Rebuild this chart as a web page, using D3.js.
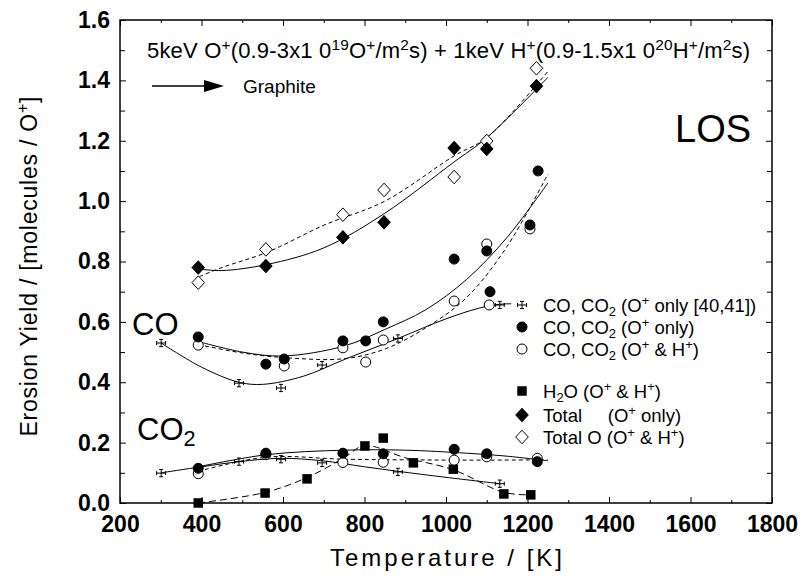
<!DOCTYPE html>
<html>
<head>
<meta charset="utf-8">
<script src="https://cdn.jsdelivr.net/npm/d3@7/dist/d3.min.js"></script>
<style>
  body { margin: 0; background: #fff; }
  text { font-family: "Liberation Sans", Arial, sans-serif; fill: #000; }
</style>
</head>
<body>
<div id="chart"></div>
<script>
// ---- data ----
const xTicks = [200, 400, 600, 800, 1000, 1200, 1400, 1600, 1800];
const xMinor = [300, 500, 700, 900, 1100, 1300, 1500, 1700];
const yTicks = [0, 0.2, 0.4, 0.6, 0.8, 1.0, 1.2, 1.4, 1.6];
const yMinor = [0.1, 0.3, 0.5, 0.7, 0.9, 1.1, 1.3, 1.5];

// CO, CO2 (O+ only [40,41]) - points with error bars
const refT = [301, 492, 595, 696, 882, 1132];
const refCO = [0.53, 0.397, 0.381, 0.457, 0.545, 0.656];
const refCO2 = [0.099, 0.137, 0.145, 0.133, 0.103, 0.064];
const refErrT = [11, 11, 11, 11, 11, 11];
const refErrY = [0.012, 0.012, 0.012, 0.012, 0.012, 0.012];

// CO (O+ only) filled circles
const coOT = [392, 558, 603, 747, 803, 846, 1020, 1100, 1108, 1206, 1226];
const coOY = [0.55, 0.46, 0.477, 0.537, 0.537, 0.60, 0.808, 0.835, 0.70, 0.921, 1.10];
// CO (O+ & H+) open circles
const coOHT = [392, 603, 747, 803, 846, 1020, 1100, 1106, 1206];
const coOHY = [0.523, 0.454, 0.514, 0.467, 0.54, 0.669, 0.858, 0.656, 0.908];

// CO2 (O+ only) filled / (O+ & H+) open
const co2T = [392, 558, 747, 846, 1020, 1100, 1224];
const co2OY = [0.115, 0.165, 0.165, 0.163, 0.178, 0.163, 0.137];
const co2OHY = [0.097, 0.16, 0.134, 0.135, 0.142, 0.153, 0.148];

// H2O (O+ & H+)
const h2oT = [392, 556, 659, 801, 846, 920, 1018, 1142, 1208];
const h2oY = [0.0, 0.033, 0.08, 0.189, 0.215, 0.133, 0.112, 0.03, 0.027];

// Total (O+ only) / Total O (O+ & H+)
const totT = [392, 558, 747, 848, 1020, 1100, 1222];
const totOY = [0.78, 0.785, 0.88, 0.93, 1.176, 1.173, 1.381];
const totOHY = [0.73, 0.84, 0.955, 1.037, 1.08, 1.199, 1.44];

// fitted curves as drawn in the figure
const fitTotOT = [395, 450, 560, 700, 850, 1020, 1100, 1250];
const fitTotOY = [0.775, 0.77, 0.79, 0.845, 0.96, 1.13, 1.21, 1.41];
const fitTotOHT = [395, 450, 560, 700, 850, 1020, 1100, 1250];
const fitTotOHY = [0.75, 0.78, 0.83, 0.92, 1.0, 1.15, 1.21, 1.43];

const fitCoOT = [392, 500, 600, 750, 850, 950, 1050, 1150, 1250];
const fitCoOY = [0.535, 0.50, 0.487, 0.52, 0.575, 0.64, 0.74, 0.88, 1.06];
const fitCoOHT = [392, 500, 620, 750, 850, 950, 1050, 1150, 1250];
const fitCoOHY = [0.525, 0.497, 0.48, 0.478, 0.51, 0.58, 0.68, 0.85, 1.09];
const fitRefCoT = [301, 400, 492, 550, 650, 750, 882, 1000, 1080, 1130, 1160];
const fitRefCoY = [0.53, 0.45, 0.40, 0.393, 0.42, 0.475, 0.545, 0.61, 0.645, 0.658, 0.66];

const fitCo2OT = [392, 560, 750, 900, 1050, 1150, 1250];
const fitCo2OY = [0.12, 0.16, 0.175, 0.175, 0.165, 0.155, 0.14];
const fitCo2OHT = [392, 560, 750, 900, 1050, 1250];
const fitCo2OHY = [0.105, 0.152, 0.145, 0.143, 0.142, 0.143];
const fitRefCo2T = [301, 400, 492, 595, 696, 800, 882, 1000, 1132];
const fitRefCo2Y = [0.10, 0.12, 0.137, 0.148, 0.14, 0.12, 0.105, 0.085, 0.064];
const fitH2oT = [392, 556, 660, 750, 800, 900, 1018, 1142, 1208];
const fitH2oY = [0.0, 0.035, 0.085, 0.15, 0.19, 0.15, 0.11, 0.035, 0.027];

const legendLabels = [
  [["CO, CO", ""], ["2", "sub"], [" (O", ""], ["+", "sup"], [" only [40,41])", ""]],
  [["CO, CO", ""], ["2", "sub"], [" (O", ""], ["+", "sup"], [" only)", ""]],
  [["CO, CO", ""], ["2", "sub"], [" (O", ""], ["+", "sup"], [" & H", ""], ["+", "sup"], [")", ""]],
  [["H", ""], ["2", "sub"], ["O (O", ""], ["+", "sup"], [" & H", ""], ["+", "sup"], [")", ""]],
  [["Total\u00a0\u00a0\u00a0\u00a0 (O", ""], ["+", "sup"], [" only)", ""]],
  [["Total O (O", ""], ["+", "sup"], [" & H", ""], ["+", "sup"], [")", ""]]
];
const legendMarks = ["err", "dot", "ring", "square", "diamond", "odiamond"];

// ---- chart ----
const width = 804, height = 576,
    margin = ({ top: 20, right: 32, bottom: 73, left: 120 });

let svg = d3.select("#chart")
    .append("svg")
    .attr("width", width)
    .attr("height", height);

let x = d3.scaleLinear()
    .domain([200, 1800])
    .range([margin.left, width - margin.right]);

let y = d3.scaleLinear()
    .domain([0, 1.6])
    .range([height - margin.bottom, margin.top]);

// axes on all four sides, ticks pointing inward
svg.append("g")
    .attr("transform", `translate(0,${y(0)})`)
    .call(d3.axisBottom(x).tickValues(xTicks).tickSizeInner(-6).tickSizeOuter(0).tickPadding(13).tickFormat(d3.format("d")))
    .call(g => g.append("g").call(d3.axisBottom(x).tickValues(xMinor).tickSizeInner(-3).tickSizeOuter(0).tickFormat("")));
svg.append("g")
    .attr("transform", `translate(0,${y(1.6)})`)
    .call(d3.axisTop(x).tickValues(xTicks).tickSizeInner(-6).tickSizeOuter(0).tickFormat(""))
    .call(g => g.append("g").call(d3.axisTop(x).tickValues(xMinor).tickSizeInner(-3).tickSizeOuter(0).tickFormat("")));
svg.append("g")
    .attr("transform", `translate(${x(200)},0)`)
    .call(d3.axisLeft(y).tickValues(yTicks).tickSizeInner(-6).tickSizeOuter(0).tickPadding(10).tickFormat(d3.format(".1f")))
    .call(g => g.append("g").call(d3.axisLeft(y).tickValues(yMinor).tickSizeInner(-5).tickSizeOuter(0).tickFormat("")));
svg.append("g")
    .attr("transform", `translate(${x(1800)},0)`)
    .call(d3.axisRight(y).tickValues(yTicks).tickSizeInner(-6).tickSizeOuter(0).tickFormat(""))
    .call(g => g.append("g").call(d3.axisRight(y).tickValues(yMinor).tickSizeInner(-5).tickSizeOuter(0).tickFormat("")));

svg.selectAll(".domain").remove();
svg.selectAll(".tick line").attr("stroke", "#000").attr("stroke-width", 1);
svg.selectAll(".tick text")
    .attr("font-family", null)
    .attr("font-size", 23)
    .attr("font-weight", "bold");

// frame
svg.append("rect")
    .attr("x", x(200)).attr("y", y(1.6))
    .attr("width", x(1800) - x(200)).attr("height", y(0) - y(1.6))
    .attr("fill", "none").attr("stroke", "#000").attr("stroke-width", 1.5);

// rich text helper (sub/superscripts)
function rich(sel, parts, size) {
    let shift = 0;
    parts.forEach(([t, kind]) => {
        let target = kind === "sup" ? -0.38 * size : kind === "sub" ? 0.2 * size : 0;
        sel.append("tspan")
            .attr("dy", target - shift)
            .attr("font-size", kind ? size * 0.7 : size)
            .text(t);
        shift = target;
    });
}

// axis titles
svg.append("text")
    .attr("x", (x(200) + x(1800)) / 2)
    .attr("y", 566)
    .attr("text-anchor", "middle")
    .attr("font-size", 24)
    .attr("textLength", 232)
    .text("Temperature / [K]");

let yt = svg.append("text")
    .attr("transform", `translate(37,${(y(0) + y(1.6)) / 2 + 5}) rotate(-90)`)
    .attr("text-anchor", "middle")
    .attr("textLength", 340);
rich(yt, [["Erosion Yield / [molecules / O", ""], ["+", "sup"], ["]", ""]], 23);

// curves
let line = d3.line().x(d => x(d[0])).y(d => y(d[1])).curve(d3.curveCatmullRom);
function curve(T, Y, dash) {
    svg.append("path")
        .datum(d3.zip(T, Y))
        .attr("d", line)
        .attr("fill", "none")
        .attr("stroke", "#000")
        .attr("stroke-width", 1)
        .attr("stroke-dasharray", dash);
}
curve(fitTotOT, fitTotOY, null);
curve(fitTotOHT, fitTotOHY, "4,3");
curve(fitCoOT, fitCoOY, null);
curve(fitCoOHT, fitCoOHY, "4,3");
curve(fitRefCoT, fitRefCoY, null);
curve(fitCo2OT, fitCo2OY, null);
curve(fitCo2OHT, fitCo2OHY, "4,3");
curve(fitRefCo2T, fitRefCo2Y, null);
curve(fitH2oT, fitH2oY, "7,4");

// markers
function mark(g, kind, cx, cy) {
    if (kind === "dot" || kind === "ring") {
        g.append("circle").attr("cx", cx).attr("cy", cy).attr("r", 5)
            .attr("fill", kind === "dot" ? "#000" : "#fff")
            .attr("stroke", "#000").attr("stroke-width", 1);
    } else if (kind === "square") {
        g.append("rect").attr("x", cx - 4.75).attr("y", cy - 4.75).attr("width", 9.5).attr("height", 9.5)
            .attr("fill", "#000");
    } else if (kind === "diamond" || kind === "odiamond") {
        g.append("path")
            .attr("d", `M${cx},${cy - 6.8}L${cx + 6.3},${cy}L${cx},${cy + 6.8}L${cx - 6.3},${cy}Z`)
            .attr("fill", kind === "diamond" ? "#000" : "#fff")
            .attr("stroke", "#000").attr("stroke-width", 1);
    } else if (kind === "err") {
        errBar(g, cx, cy, 4.5, 3.6);
    }
}
function errBar(g, cx, cy, dx, dy) {
    g.append("path")
        .attr("d", `M${cx - dx},${cy}H${cx + dx}M${cx - dx},${cy - 2}V${cy + 2}M${cx + dx},${cy - 2}V${cy + 2}` +
            `M${cx},${cy - dy}V${cy + dy}M${cx - 2},${cy - dy}H${cx + 2}M${cx - 2},${cy + dy}H${cx + 2}`)
        .attr("fill", "none").attr("stroke", "#000").attr("stroke-width", 1);
}

let pts = svg.append("g");
// error-bar reference points
refT.forEach((t, i) => {
    let dx = x(t + refErrT[i]) - x(t), dy = y(0) - y(refErrY[i]);
    errBar(pts, x(t), y(refCO[i]), dx, dy);
    errBar(pts, x(t), y(refCO2[i]), dx, dy);
});
h2oT.forEach((t, i) => mark(pts, "square", x(t), y(h2oY[i])));
coOHT.forEach((t, i) => mark(pts, "ring", x(t), y(coOHY[i])));
co2T.forEach((t, i) => mark(pts, "ring", x(t), y(co2OHY[i])));
coOT.forEach((t, i) => mark(pts, "dot", x(t), y(coOY[i])));
co2T.forEach((t, i) => mark(pts, "dot", x(t), y(co2OY[i])));
totT.forEach((t, i) => mark(pts, "odiamond", x(t), y(totOHY[i])));
totT.forEach((t, i) => mark(pts, "diamond", x(t), y(totOY[i])));

// legend
let leg = svg.append("g");
const legRows = [305, 327, 349, 391, 415, 437];
legendLabels.forEach((parts, i) => {
    mark(leg, legendMarks[i], 522, legRows[i]);
    let t = leg.append("text").attr("x", 543).attr("y", legRows[i] + 7);
    rich(t, parts, 18.5);
});

// labels in the plot
let tt = svg.append("text").attr("x", 147).attr("y", 58).attr("textLength", 603);
rich(tt, [["5keV O", ""], ["+", "sup"], ["(0.9-3x1 0", ""], ["19", "sup"], ["O", ""], ["+", "sup"], ["/m", ""], ["2", "sup"],
    ["s) + 1keV H", ""], ["+", "sup"], ["(0.9-1.5x1 0", ""], ["20", "sup"], ["H", ""], ["+", "sup"], ["/m", ""], ["2", "sup"], ["s)", ""]], 22);

svg.append("line").attr("x1", 152).attr("x2", 206).attr("y1", 86).attr("y2", 86)
    .attr("stroke", "#000").attr("stroke-width", 1.3);
svg.append("path").attr("d", "M204,80L224,86L204,92Z").attr("fill", "#000");
svg.append("text").attr("x", 243).attr("y", 93).attr("font-size", 19).text("Graphite");

svg.append("text").attr("x", 675).attr("y", 142).attr("font-size", 38).text("LOS");
svg.append("text").attr("x", 132).attr("y", 335).attr("font-size", 31).text("CO");
let c2 = svg.append("text").attr("x", 137).attr("y", 440);
rich(c2, [["CO", ""], ["2", "sub"]], 31);
</script>
</body>
</html>
